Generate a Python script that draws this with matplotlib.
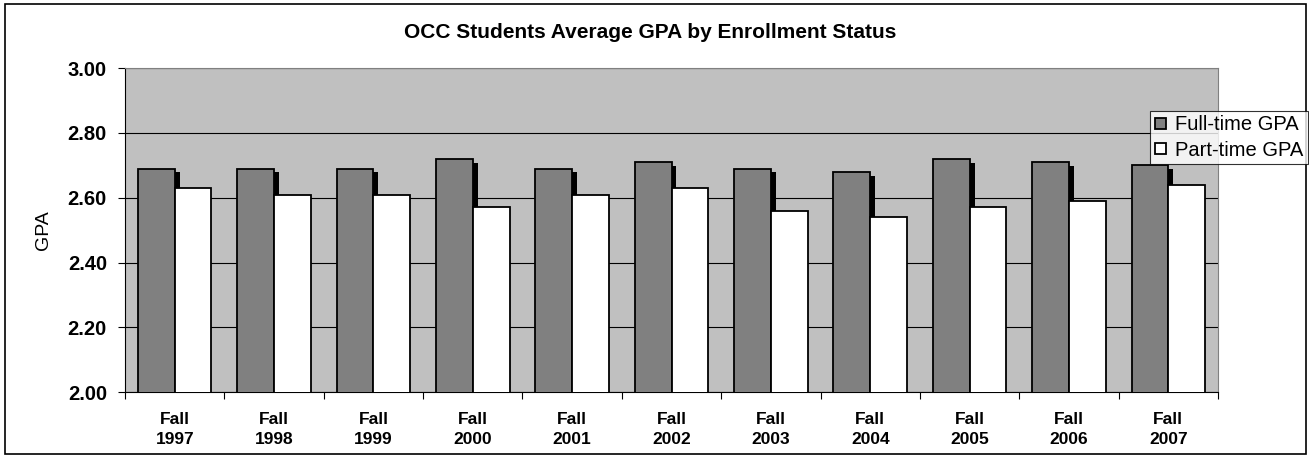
import matplotlib.pyplot as plt
import numpy as np
from matplotlib.patches import Rectangle

plt.rcParams["font.family"] = ["Liberation Sans", "DejaVu Sans"]

# Data
terms = ["Fall\n1997", "Fall\n1998", "Fall\n1999", "Fall\n2000", "Fall\n2001",
         "Fall\n2002", "Fall\n2003", "Fall\n2004", "Fall\n2005", "Fall\n2006",
         "Fall\n2007"]
full_time_gpa = [2.69, 2.69, 2.69, 2.72, 2.69, 2.71, 2.69, 2.68, 2.72, 2.71, 2.70]
part_time_gpa = [2.63, 2.61, 2.61, 2.57, 2.61, 2.63, 2.56, 2.54, 2.57, 2.59, 2.64]
y_ticks = [2.00, 2.20, 2.40, 2.60, 2.80, 3.00]

fig = plt.figure(figsize=(13.09, 4.57), dpi=100)
ax = fig.add_axes([0.0955, 0.1416, 0.835, 0.7094])

x = np.arange(len(terms))
w = 0.37

# drop shadow behind the full-time bars
ax.bar(x - w / 2 + 0.05, np.array(full_time_gpa) - 0.012, width=w,
       color="black", linewidth=0, zorder=2)
ax.bar(x - w / 2, full_time_gpa, width=w, color="#808080",
       edgecolor="black", linewidth=1.3, zorder=3, label="Full-time GPA")
ax.bar(x + w / 2, part_time_gpa, width=w, color="white",
       edgecolor="black", linewidth=1.3, zorder=3, label="Part-time GPA")

ax.set_facecolor("#C0C0C0")
ax.set_xlim(-0.5, len(terms) - 0.5)
ax.set_ylim(2.0, 3.0)
ax.set_yticks(y_ticks)
ax.set_yticklabels([f"{v:.2f}" for v in y_ticks], fontsize=14.5, fontweight="bold")
ax.yaxis.grid(True, color="black", linewidth=0.8, zorder=1)
ax.set_axisbelow(True)
ax.tick_params(axis="y", length=5, width=0.8, pad=8)

ax.set_xticks(np.arange(len(terms) + 1) - 0.5)
ax.set_xticklabels([])
ax.set_xticks(x, minor=True)
ax.set_xticklabels(terms, minor=True, fontsize=12.5, fontweight="bold",
                   linespacing=1.45)
ax.tick_params(axis="x", which="major", length=5, width=0.8)
ax.tick_params(axis="x", which="minor", length=0, pad=14)

for side in ["top", "right"]:
    ax.spines[side].set_color("#808080")
ax.spines["left"].set_color("black")
ax.spines["bottom"].set_color("black")

ax.set_ylabel("GPA", fontsize=14, labelpad=11)
fig.text(0.497, 0.929, "OCC Students Average GPA by Enrollment Status",
         ha="center", va="center", fontsize=15, fontweight="bold")

leg = fig.legend(loc="upper right", bbox_to_anchor=(0.999, 0.757),
                 fontsize=14.5, frameon=True, fancybox=False, edgecolor="black",
                 handlelength=0.55, handleheight=0.45, handletextpad=0.45,
                 borderpad=0.22, labelspacing=0.3, borderaxespad=0)
leg.get_frame().set_linewidth(0.8)

fig.patches.append(Rectangle((0.004, 0.006), 0.994, 0.986, transform=fig.transFigure,
                             fill=False, edgecolor="black", linewidth=1.2))

fig.savefig("out.png", dpi=100)
